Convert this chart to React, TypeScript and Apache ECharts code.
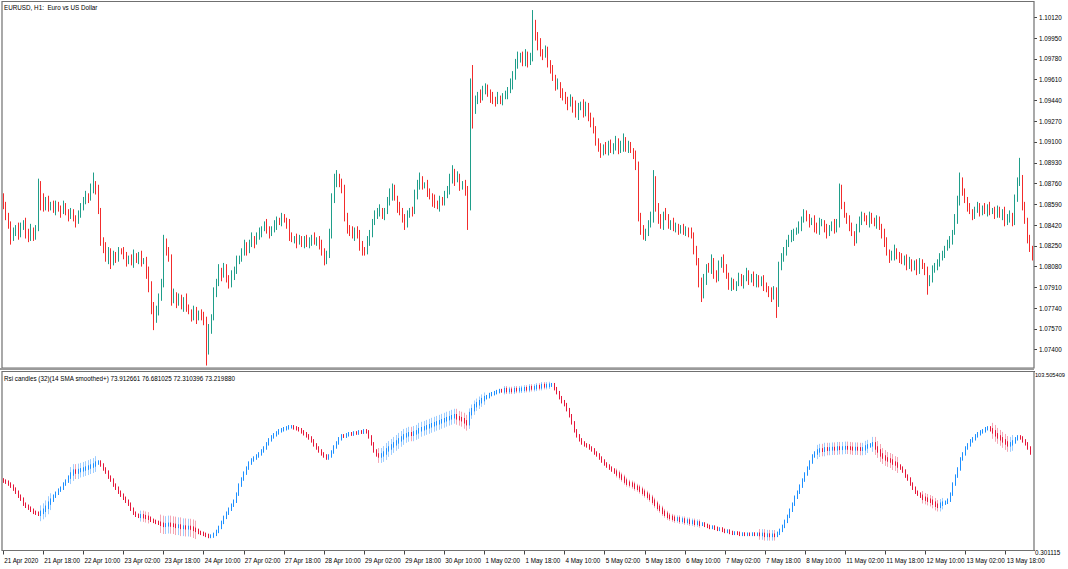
import { useEffect, useRef } from "react";
import * as echarts from "echarts";

const TITLE = "EURUSD, H1:  Euro vs US Dollar";
const RSI_TITLE = "Rsi candles (32)(14 SMA smoothed+) 73.912661 76.681025 72.310396 73.219880";

const timeLabels = [
  "21 Apr 2020", "21 Apr 18:00", "22 Apr 10:00", "23 Apr 02:00", "23 Apr 18:00", "24 Apr 10:00",
  "27 Apr 02:00", "27 Apr 18:00", "28 Apr 10:00", "29 Apr 02:00", "29 Apr 18:00", "30 Apr 10:00",
  "1 May 02:00", "1 May 18:00", "4 May 10:00", "5 May 02:00", "5 May 18:00", "6 May 10:00",
  "7 May 02:00", "7 May 18:00", "8 May 10:00", "11 May 02:00", "11 May 18:00", "12 May 10:00",
  "13 May 02:00", "13 May 18:00",
];
const LABEL_EVERY = 16;

const priceTicks = [1.1012, 1.0995, 1.0978, 1.0961, 1.0944, 1.0927, 1.091, 1.0893, 1.0876, 1.0859, 1.0842, 1.0825, 1.0808, 1.0791, 1.0774, 1.0757, 1.074];
const rsiTicks = [0.301115, 103.505409];

// EURUSD H1 closes, in 1e-4 units
const firstOpen = 10864;
const closePips = [
  10858,10850,10842,10831,10836,10839,10834,10841,10844,10836,10831,10838,10833,10839,10866,10858,
  10856,10862,10857,10859,10854,10858,10856,10853,10857,10853,10849,10852,10848,10845,10851,10856,
  10862,10866,10864,10871,10875,10871,10853,10830,10823,10815,10821,10812,10817,10815,10821,10820,
  10817,10812,10815,10812,10817,10813,10817,10812,10813,10803,10793,10777,10768,10772,10783,10793,
  10827,10821,10815,10781,10785,10778,10782,10776,10781,10774,10771,10767,10772,10766,10770,10767,
  10764,10740,10756,10766,10787,10795,10805,10801,10807,10799,10793,10801,10805,10812,10815,10820,
  10826,10821,10827,10831,10828,10833,10836,10839,10842,10838,10835,10839,10842,10846,10844,10848,
  10846,10842,10833,10830,10831,10828,10831,10827,10830,10826,10830,10831,10828,10830,10826,10820,
  10813,10817,10834,10862,10876,10880,10877,10871,10850,10839,10836,10833,10838,10834,10826,10821,
  10820,10828,10836,10844,10850,10853,10854,10849,10853,10861,10866,10872,10864,10857,10853,10848,
  10843,10850,10854,10853,10866,10875,10879,10874,10875,10869,10866,10862,10859,10857,10862,10861,
  10866,10871,10879,10885,10879,10882,10874,10875,10871,10858,10954,10938,10944,10948,10946,10952,
  10954,10951,10947,10944,10943,10946,10944,10947,10948,10952,10957,10964,10972,10979,10980,10975,
  10981,10975,10979,11006,10997,10990,10983,10981,10985,10975,10969,10962,10956,10957,10951,10947,
  10944,10941,10944,10938,10933,10938,10940,10934,10939,10932,10926,10920,10911,10905,10902,10905,
  10903,10908,10903,10907,10910,10903,10907,10911,10905,10907,10903,10899,10891,10850,10838,10833,
  10836,10842,10848,10879,10856,10848,10842,10851,10848,10842,10844,10839,10841,10838,10839,10836,
  10838,10836,10833,10823,10812,10795,10785,10797,10807,10805,10812,10803,10799,10809,10813,10807,
  10801,10793,10795,10792,10794,10799,10795,10799,10802,10797,10800,10795,10799,10794,10797,10792,
  10790,10787,10784,10789,10779,10807,10815,10821,10826,10831,10833,10836,10838,10841,10846,10850,
  10848,10844,10846,10841,10838,10843,10844,10839,10836,10839,10843,10839,10844,10871,10858,10850,
  10846,10841,10835,10830,10838,10846,10849,10848,10844,10849,10846,10843,10846,10841,10836,10828,
  10820,10815,10818,10821,10817,10815,10812,10815,10810,10812,10807,10810,10805,10812,10808,10805,
  10795,10799,10805,10808,10812,10815,10818,10823,10826,10830,10836,10846,10862,10877,10869,10862,
  10856,10853,10850,10854,10857,10853,10856,10853,10856,10853,10854,10851,10854,10850,10853,10844,
  10848,10850,10844,10864,10876,10879,10858,10846,10831,10823,10817,
];
// wick lengths beyond the body, in 1e-4 units
const upperWick = [
  4,3,2,3,4,3,5,3,2,4,3,5,2,3,14,12,
  10,3,4,2,3,4,3,2,5,3,2,4,3,2,3,4,
  3,4,2,5,10,3,4,3,2,5,3,2,4,3,3,2,
  4,3,2,3,5,2,3,4,2,3,5,3,2,4,3,5,
  7,4,3,3,5,2,4,3,2,5,3,2,4,3,2,3,
  4,3,5,3,4,3,5,2,4,3,2,4,3,5,2,3,
  4,2,3,5,2,3,4,2,3,5,3,2,4,3,2,4,
  3,2,5,3,2,4,3,2,3,4,2,3,5,2,3,4,
  3,4,5,6,8,7,4,3,4,2,3,5,2,3,4,3,
  3,5,2,3,4,3,5,2,3,4,6,4,3,2,4,3,
  3,4,2,3,5,4,6,3,2,4,3,2,5,3,4,3,
  4,3,5,6,3,4,2,3,4,3,8,19,4,3,5,4,
  4,3,2,4,3,5,2,3,4,3,5,4,6,5,3,4,
  5,3,4,12,4,3,5,3,4,3,2,4,3,5,2,3,
  4,3,5,3,6,4,3,5,4,3,2,4,3,2,4,3,
  5,3,4,2,5,3,4,6,3,4,3,2,4,3,2,4,
  3,4,5,8,3,4,3,2,5,3,2,4,3,2,3,4,
  3,2,4,3,2,3,4,5,3,4,6,3,2,4,3,5,
  3,2,4,3,2,4,3,2,5,3,2,4,3,2,3,4,
  3,2,4,3,2,5,4,3,4,3,5,3,2,4,3,5,
  4,3,2,4,3,5,3,2,4,3,2,4,3,5,4,3,
  2,4,3,2,5,3,4,3,2,4,3,2,4,3,2,3,
  4,2,3,5,2,3,4,2,3,4,2,3,4,3,2,3,
  3,2,4,3,2,4,3,2,4,3,2,5,4,8,4,3,
  3,4,2,3,4,3,2,4,3,5,2,3,4,3,2,4,
  3,4,2,3,5,18,4,3,2,3,2,
];
const lowerWick = [
  3,4,3,5,2,3,4,2,3,5,3,2,4,3,2,4,
  3,2,4,3,2,4,3,5,2,3,4,2,3,5,2,3,
  2,3,4,2,3,4,2,5,4,3,5,6,3,4,3,2,
  3,4,2,3,5,2,3,4,2,5,6,8,12,6,4,3,
  2,4,3,5,3,4,2,3,5,3,2,4,3,5,2,3,
  4,13,4,3,2,4,3,5,2,4,3,2,4,3,2,3,
  3,4,2,3,5,2,3,4,2,3,4,2,3,4,2,3,
  2,3,4,2,3,5,2,3,4,2,3,5,2,3,4,3,
  4,3,2,3,2,3,4,3,5,4,3,2,4,3,5,4,
  3,2,3,4,2,3,4,2,3,2,3,4,2,5,3,4,
  5,3,2,4,2,3,4,3,2,4,3,5,3,2,4,3,
  3,2,4,3,5,2,4,3,5,20,4,17,5,3,4,2,
  3,4,5,3,4,2,3,4,2,3,2,4,3,2,4,3,
  3,4,2,3,4,5,3,4,2,4,3,2,4,3,5,3,
  3,5,2,4,3,5,2,4,3,5,4,3,4,3,5,3,
  3,4,2,3,4,3,2,5,3,4,2,3,4,5,4,3,
  4,3,2,4,3,5,3,4,2,3,4,2,3,4,3,2,
  3,4,2,5,3,4,6,3,4,2,3,5,4,3,2,4,
  3,4,5,3,4,2,3,5,3,4,2,3,4,3,2,4,
  3,4,5,3,13,4,2,3,4,2,3,4,2,3,4,2,
  3,4,2,5,3,4,2,3,5,3,2,4,3,4,3,2,
  3,4,2,5,3,2,4,3,2,4,3,2,4,3,5,4,
  3,4,2,5,3,4,2,3,5,4,3,2,4,3,2,4,
  10,3,4,2,3,4,2,3,2,3,4,2,3,4,3,2,
  3,2,4,3,2,4,3,2,4,3,2,4,3,2,4,3,
  2,4,3,2,3,2,4,3,4,3,4,
];

// RSI candles (smoothed) closes
const rsiFirstOpen = 41.0;
const rsiClose = [
  40.3,39.7,38.6,37.4,35.7,33.9,31.6,29.9,27.0,25.8,24.7,23.5,22.3,21.8,21.2,22.3,
  23.5,25.2,27.6,29.3,31.6,33.3,35.1,36.2,38.6,40.3,42.6,44.4,46.1,45.5,46.4,46.8,
  47.3,47.8,48.4,49.0,49.6,50.7,51.3,49.6,47.3,45.5,42.6,40.9,38.0,36.2,33.9,32.2,
  30.4,28.7,27.0,24.1,21.8,20.6,20.0,20.3,19.8,19.4,18.9,17.7,17.1,16.5,16.0,15.4,
  14.8,15.1,15.4,15.0,14.8,14.2,14.4,13.6,13.8,13.4,13.6,13.2,12.5,11.9,10.7,10.2,
  9.6,9.0,8.4,8.6,9.6,11.3,13.6,16.5,19.4,21.8,24.1,26.4,28.7,32.8,38.0,41.5,
  44.9,47.8,50.7,52.5,53.6,54.8,56.0,57.7,59.4,61.8,64.1,65.8,67.0,68.1,69.3,69.9,
  70.5,71.0,71.6,71.6,71.0,70.5,69.9,68.7,67.6,66.4,65.2,63.5,61.2,59.4,57.7,56.0,
  54.8,53.6,54.8,57.1,60.0,62.3,64.7,66.4,66.2,67.0,67.6,67.4,68.1,68.0,68.7,68.5,
  69.3,68.7,65.8,61.8,57.7,55.4,54.8,55.4,56.5,58.3,59.4,60.6,61.8,62.9,64.1,65.2,
  66.4,67.0,67.6,67.3,68.1,68.7,69.9,70.5,71.0,71.6,72.2,72.8,73.4,73.9,74.5,75.1,
  75.7,76.3,76.8,77.4,78.0,76.8,76.3,75.7,74.5,73.4,79.2,81.5,83.8,84.9,86.1,87.3,
  88.4,89.0,90.2,90.7,91.3,91.9,92.5,92.3,93.1,92.5,92.7,92.5,93.1,93.0,93.1,93.3,
  93.6,93.5,94.2,94.0,94.2,94.8,94.6,95.4,95.2,95.4,95.6,95.9,93.6,91.3,88.4,86.1,
  84.4,81.5,78.0,73.9,69.3,66.4,64.1,62.3,61.2,60.6,59.4,58.3,56.5,55.4,53.6,51.9,
  50.2,49.0,47.8,46.7,45.5,44.4,43.2,42.0,40.3,39.1,38.6,38.0,36.8,36.2,35.1,33.9,
  32.8,31.6,30.4,28.7,27.0,25.2,24.1,22.3,21.2,20.0,19.4,18.9,18.3,18.5,17.7,17.9,
  17.1,17.3,16.5,16.7,16.0,16.2,15.4,15.6,14.8,14.2,13.6,13.8,13.1,12.5,12.7,11.9,
  11.3,11.5,10.7,10.2,10.4,10.2,9.6,9.8,9.6,9.7,9.6,9.8,9.6,9.7,9.5,9.6,
  9.0,9.2,9.0,9.1,9.0,10.2,11.9,14.2,17.1,20.0,23.5,27.0,31.0,33.9,37.4,40.9,
  44.4,47.8,51.3,54.8,56.5,57.7,58.3,58.1,58.9,58.7,58.9,59.1,58.9,59.4,59.2,59.4,
  59.6,59.4,59.2,58.9,59.1,58.9,58.7,58.9,60.0,60.6,61.2,61.8,59.4,57.7,55.4,54.2,
  53.1,52.5,51.9,50.7,50.2,49.0,47.8,46.1,43.2,41.5,38.6,36.2,33.9,32.8,31.6,30.4,
  29.9,29.3,28.7,27.6,26.4,25.8,27.0,27.6,28.1,29.3,32.8,38.6,43.2,47.3,53.1,56.0,
  59.4,61.2,63.5,64.7,66.4,67.6,68.7,69.3,70.5,71.0,69.9,68.7,67.0,65.8,64.7,63.5,
  62.3,61.2,61.8,62.9,64.7,65.8,65.2,63.5,61.8,59.4,56.5,
];
// [from bar, to bar, wick size]: stretches where faded, taller wicks show behind the candles
const rsiNoisy: [number, number, number][] = [
  [15, 19, 4], [27, 37, 4], [55, 58, 3], [63, 77, 5], [150, 185, 4], [186, 192, 3],
  [200, 218, 2], [245, 278, 2], [302, 308, 3], [325, 345, 3.5], [347, 357, 4], [367, 375, 3], [395, 403, 4],
];
const RSI_WICK = 1.0;

const FONT = "'Liberation Sans', Arial, sans-serif";
const FS = 6.3;
const GREEN = "#1f9e8a";
const RED = "#f22c2c";
const BLUE = "#1e90ff";
const CRIMSON = "#e5173a";
const BLUE_F = "#9dcdff";
const CRIMSON_F = "#f4a6b4";
const BORDER = "#707070";

export default function App() {
  const ref = useRef<HTMLDivElement>(null);
  useEffect(() => {
    if (!ref.current) return;
    const chart = echarts.init(ref.current, null, { renderer: "svg" });
    const cats = closePips.map((_, i) => String(i));
    const priceData = closePips.map((c, i) => {
      const o = i === 0 ? firstOpen : closePips[i - 1];
      const hi = Math.max(o, c) + (upperWick[i] ?? 2);
      const lo = Math.min(o, c) - (lowerWick[i] ?? 2);
      return [o / 1e4, c / 1e4, lo / 1e4, hi / 1e4];
    });
    const rsiOpen = (i: number) => (i === 0 ? rsiFirstOpen : rsiClose[i - 1]);
    const rsiData = rsiClose.map((c, i) => {
      const o = rsiOpen(i);
      return [o, c, Math.min(o, c) - RSI_WICK, Math.max(o, c) + RSI_WICK];
    });
    const rsiFaded = rsiClose.map((c, i) => {
      const seg = rsiNoisy.find(([a, b]) => i >= a && i <= b);
      if (!seg) return "-";
      const o = rsiOpen(i);
      const col = c >= o ? BLUE_F : CRIMSON_F;
      return {
        value: [o, c, Math.min(o, c) - seg[2], Math.max(o, c) + seg[2]],
        itemStyle: { color: col, color0: col, borderColor: col, borderColor0: col },
      };
    });
    const isLabel = (i: number) => i % LABEL_EVERY === 0 && i / LABEL_EVERY < timeLabels.length;
    const textStyle = { fontSize: FS, color: "#000", fontFamily: FONT };

    chart.setOption({
      animation: false,
      backgroundColor: "#ffffff",
      grid: [
        { left: 2, top: 1.5, width: 1032, height: 366.5 },
        { left: 2, top: 371.5, width: 1032, height: 179 },
      ],
      xAxis: [
        { gridIndex: 0, type: "category", data: cats, boundaryGap: true, show: false },
        {
          gridIndex: 1,
          type: "category",
          data: cats,
          boundaryGap: true,
          axisLine: { show: false },
          axisTick: {
            show: true,
            alignWithLabel: true,
            interval: (i: number) => isLabel(i),
            length: 4,
            lineStyle: { color: "#444" },
          },
          axisLabel: {
            ...textStyle,
            interval: (i: number) => isLabel(i),
            formatter: (v: string) => timeLabels[Number(v) / LABEL_EVERY] ?? "",
            align: "left",
            margin: 6.5,
            padding: [0, 0, 0, 1],
          },
        },
      ],
      yAxis: [
        {
          gridIndex: 0,
          type: "value",
          position: "right",
          min: 1.0725,
          max: 1.1025,
          scale: true,
          splitLine: { show: false },
          axisLine: { show: false },
          axisTick: { show: true, customValues: priceTicks, length: 3, lineStyle: { color: "#444" } },
          axisLabel: { ...textStyle, customValues: priceTicks, formatter: (v: number) => v.toFixed(5), margin: 5 },
        },
        {
          gridIndex: 1,
          type: "value",
          position: "right",
          min: rsiTicks[0],
          max: rsiTicks[1],
          splitLine: { show: false },
          axisLine: { show: false },
          axisTick: { show: true, customValues: rsiTicks, length: 3, lineStyle: { color: "#444" } },
          axisLabel: {
            ...textStyle,
            customValues: rsiTicks,
            formatter: (v: number) => (v > 50 ? `{t|${v.toFixed(6)}}` : `{b|${v.toFixed(6)}}`),
            margin: 3,
            rich: {
              t: { fontSize: 5.7, fontFamily: FONT, color: "#000", padding: [6, 0, 0, 0] },
              b: { fontSize: FS, fontFamily: FONT, color: "#000", padding: [3, 0, 0, 0] },
            },
          },
        },
      ],
      series: [
        {
          type: "candlestick",
          xAxisIndex: 0,
          yAxisIndex: 0,
          data: priceData,
          barWidth: 1,
          itemStyle: { color: GREEN, color0: RED, borderColor: GREEN, borderColor0: RED, borderWidth: 1 },
        },
        {
          type: "candlestick",
          xAxisIndex: 1,
          yAxisIndex: 1,
          data: rsiFaded,
          barWidth: 1,
          z: 1,
          itemStyle: { color: BLUE_F, color0: CRIMSON_F, borderColor: BLUE_F, borderColor0: CRIMSON_F, borderWidth: 1 },
        },
        {
          type: "candlestick",
          xAxisIndex: 1,
          yAxisIndex: 1,
          data: rsiData,
          barWidth: 1,
          z: 2,
          itemStyle: { color: BLUE, color0: CRIMSON, borderColor: BLUE, borderColor0: CRIMSON, borderWidth: 1 },
        },
      ],
      graphic: [
        {
          type: "rect",
          silent: true,
          z: 100,
          shape: { x: 2, y: 1.5, width: 1032, height: 366.5 },
          style: { fill: "none", stroke: BORDER, lineWidth: 1.2 },
        },
        {
          type: "line",
          silent: true,
          z: 100,
          shape: { x1: 0, y1: 369, x2: 1034, y2: 369 },
          style: { stroke: "#9a9a9a", lineWidth: 2 },
        },
        {
          type: "rect",
          silent: true,
          z: 100,
          shape: { x: 2, y: 371.5, width: 1032, height: 179 },
          style: { fill: "none", stroke: BORDER, lineWidth: 1.2 },
        },
        {
          type: "text",
          x: 4,
          y: 4,
          z: 101,
          style: { text: TITLE, fontSize: FS, fill: "#000", fontFamily: FONT },
        },
        {
          type: "text",
          x: 4,
          y: 375,
          z: 101,
          style: { text: RSI_TITLE, fontSize: FS, fill: "#000", fontFamily: FONT },
        },
      ],
    });
    return () => chart.dispose();
  }, []);
  return (
    <div
      ref={ref}
      style={{ position: "fixed", left: 0, top: 0, width: 1068, height: 569, background: "#ffffff" }}
    />
  );
}
